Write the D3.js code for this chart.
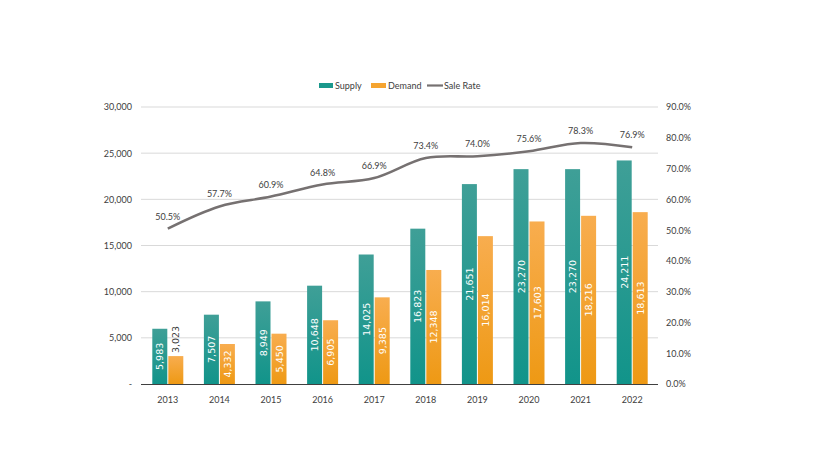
<!DOCTYPE html>
<html>
<head>
    <meta charset="UTF-8">
    <style>
        body {
            margin: 0;
            background-color: #ffffff;
        }

        .chart text {
            font-family: Lato, "Open Sans", sans-serif;
            font-size: 9px;
            fill: #404040;
        }

        .chart .bar-label {
            font-family: "DejaVu Sans", sans-serif;
            font-size: 9.5px;
        }
    </style>
    <title>Supply / Demand</title>
</head>
<body>
    <svg class="chart" id="d3chart" width="825" height="464"></svg>

    <script src="https://cdn.jsdelivr.net/npm/d3@7"></script>
    <script>
        const years = ["2013", "2014", "2015", "2016", "2017", "2018", "2019", "2020", "2021", "2022"];
        const supply = [5983, 7507, 8949, 10648, 14025, 16823, 21651, 23270, 23270, 24211];
        const demand = [3023, 4332, 5450, 6905, 9385, 12348, 16014, 17603, 18216, 18613];
        const saleRate = [50.5, 57.7, 60.9, 64.8, 66.9, 73.4, 74.0, 75.6, 78.3, 76.9];
        const leftTicks = [0, 5000, 10000, 15000, 20000, 25000, 30000];
        const rightTicks = [0, 10, 20, 30, 40, 50, 60, 70, 80, 90];

        const plotLeft = 142, plotRight = 658, plotTop = 107, plotBottom = 384;
        const barW = 15;

        const svg = d3.select("#d3chart");

        // gradients for the bars
        const defs = svg.append("defs");
        function addGradient(id, c1, c2) {
            const g = defs.append("linearGradient")
                .attr("id", id)
                .attr("x1", 0).attr("y1", 0)
                .attr("x2", 0).attr("y2", 1);
            g.append("stop").attr("offset", "0%").attr("stop-color", c1);
            g.append("stop").attr("offset", "100%").attr("stop-color", c2);
        }
        addGradient("gSupply", "#3f9f97", "#11948a");
        addGradient("gDemand", "#f8ad4f", "#ee9914");

        const x = d3.scaleBand().domain(years).range([plotLeft, plotRight]);
        const y = d3.scaleLinear().domain([0, 30000]).range([plotBottom, plotTop]);
        const y2 = d3.scaleLinear().domain([0, 90]).range([plotBottom, plotTop]);

        // gridlines
        svg.append("g")
            .selectAll("line")
            .data(leftTicks.filter(d => d > 0))
            .enter().append("line")
            .attr("x1", plotLeft - 1)
            .attr("x2", plotRight)
            .attr("y1", d => y(d))
            .attr("y2", d => y(d))
            .style("stroke", "#d9d9d9")
            .style("stroke-width", 1);

        // left axis
        const leftAxis = svg.append("g")
            .attr("transform", `translate(${plotLeft - 10},0)`)
            .call(d3.axisLeft(y)
                .tickValues(leftTicks)
                .tickSize(0)
                .tickPadding(0)
                .tickFormat(d => d === 0 ? "-" : d3.format(",")(d)));
        leftAxis.select(".domain").remove();
        leftAxis.selectAll("text").style("fill", "#404040");

        // right axis
        const rightAxis = svg.append("g")
            .attr("transform", `translate(${plotRight + 8},0)`)
            .call(d3.axisRight(y2)
                .tickValues(rightTicks)
                .tickSize(0)
                .tickPadding(0)
                .tickFormat(d => d.toFixed(1) + "%"));
        rightAxis.select(".domain").remove();
        rightAxis.selectAll("text").style("fill", "#404040");

        // bottom axis
        const bottomAxis = svg.append("g")
            .attr("transform", `translate(0,${plotBottom})`)
            .call(d3.axisBottom(x).tickSize(0).tickPadding(13));
        bottomAxis.select(".domain").remove();
        bottomAxis.selectAll("text").style("fill", "#404040");

        // bars
        function drawBars(values, offset, fill) {
            svg.append("g")
                .selectAll("rect")
                .data(values)
                .enter().append("rect")
                .attr("x", (d, i) => x(years[i]) + x.bandwidth() / 2 + offset)
                .attr("y", d => y(d))
                .attr("width", barW)
                .attr("height", d => plotBottom - y(d))
                .style("fill", fill);
        }
        drawBars(supply, -barW - 0.5, "url(#gSupply)");
        drawBars(demand, 0.5, "url(#gDemand)");

        // axis baseline
        svg.append("line")
            .attr("x1", plotLeft - 1)
            .attr("x2", plotRight)
            .attr("y1", plotBottom + 0.5)
            .attr("y2", plotBottom + 0.5)
            .style("stroke", "#404040")
            .style("stroke-width", 1.2);

        // rotated labels inside bars (above the bar if it is too short)
        function drawBarLabels(values, offset) {
            svg.append("g")
                .selectAll("text")
                .data(values)
                .enter().append("text")
                .attr("class", "bar-label")
                .each(function (d, i) {
                    const cx = x(years[i]) + x.bandwidth() / 2 + offset + barW / 2;
                    const h = plotBottom - y(d);
                    const t = d3.select(this).text(d3.format(",")(d));
                    if (h > 35) {
                        t.attr("transform", `translate(${cx + 3.5},${(y(d) + plotBottom) / 2}) rotate(-90)`)
                            .attr("text-anchor", "middle")
                            .style("fill", "#ffffff");
                    } else {
                        t.attr("transform", `translate(${cx + 3.5},${y(d) - 3}) rotate(-90)`)
                            .attr("text-anchor", "start")
                            .style("fill", "#404040");
                    }
                });
        }
        drawBarLabels(supply, -barW - 0.5);
        drawBarLabels(demand, 0.5);

        // sale rate line
        const line = d3.line()
            .x((d, i) => x(years[i]) + x.bandwidth() / 2)
            .y(d => y2(d))
            .curve(d3.curveCatmullRom);

        svg.append("path")
            .datum(saleRate)
            .attr("d", line)
            .style("fill", "none")
            .style("stroke", "#767171")
            .style("stroke-width", 2.6);

        svg.append("g")
            .selectAll("text")
            .data(saleRate)
            .enter().append("text")
            .attr("x", (d, i) => x(years[i]) + x.bandwidth() / 2)
            .attr("y", d => y2(d) - 9)
            .attr("text-anchor", "middle")
            .text(d => d.toFixed(1) + "%");

        // legend
        const legend = svg.append("g");
        legend.append("rect").attr("x", 319).attr("y", 83).attr("width", 14).attr("height", 5).style("fill", "#1a988c");
        legend.append("text").attr("x", 335).attr("y", 89).text("Supply");
        legend.append("rect").attr("x", 371).attr("y", 83).attr("width", 15).attr("height", 5).style("fill", "#f5a430");
        legend.append("text").attr("x", 388).attr("y", 89).text("Demand");
        legend.append("line").attr("x1", 427).attr("x2", 443).attr("y1", 85.5).attr("y2", 85.5)
            .style("stroke", "#767171").style("stroke-width", 2.2);
        legend.append("text").attr("x", 444).attr("y", 89).text("Sale Rate");
    </script>
</body>
</html>
